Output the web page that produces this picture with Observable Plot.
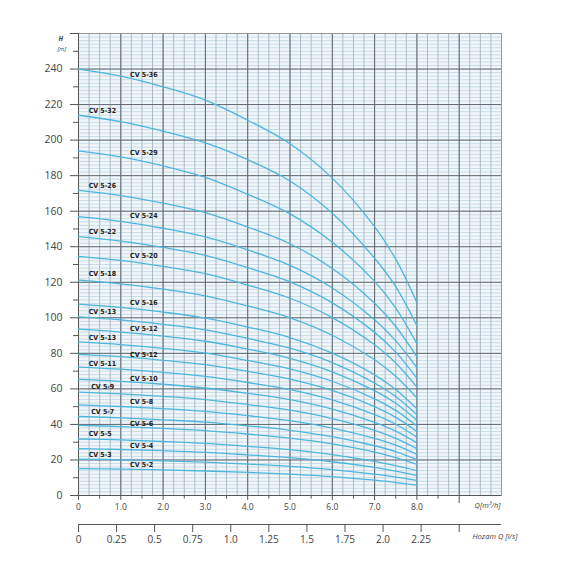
<!DOCTYPE html>
<html>
<head>
<meta charset="utf-8">
<script src="https://cdn.jsdelivr.net/npm/d3@7"></script>
<script src="https://cdn.jsdelivr.net/npm/@observablehq/plot@0.6"></script>
<style>
  body { margin: 0; background: #fff; }
</style>
</head>
<body>
<div id="chart"></div>
<script>
// flow points (m3/h) where each curve was read
const flow = [0, 1, 2, 3, 4, 5, 6, 7, 7.5, 8]

// head (m) of each pump curve at those flows
const cv36 = [240, 236, 230, 222.5, 211.2, 198, 178.6, 151.3, 133, 108.6]
const cv32 = [214, 210.4, 205, 198.4, 189, 177, 158.8, 133.5, 117.5, 95.5]
const cv29 = [194, 190.6, 185.5, 179, 169.5, 158.5, 142.5, 120.5, 105.5, 85.5]
const cv26 = [171.7, 168.8, 164.5, 159.2, 151.1, 141.7, 127.7, 108.2, 95.1, 78]
const cv24 = [157, 154.3, 150.4, 145.5, 138.2, 129.5, 116.8, 98.9, 87, 72]
const cv22 = [145.7, 143.2, 139.6, 135.1, 128.2, 120.2, 108.4, 91.8, 80.7, 66]
const cv20 = [134.6, 132.3, 128.9, 124.8, 118.4, 111, 100.1, 84.8, 74.6, 61]
const cv18 = [121.2, 119.1, 116.1, 112.4, 106.7, 100, 90.2, 76.4, 67.1, 54.9]
const cv16 = [107.7, 105.9, 103.2, 99.8, 94.8, 88.9, 80.1, 67.9, 59.7, 48.8]
const cv15 = [100.5, 98.8, 96.3, 93.2, 88.4, 82.9, 74.8, 63.3, 55.7, 45.5]
const cv14 = [93.6, 92, 89.7, 86.8, 82.4, 77.2, 69.6, 59, 51.9, 42.4]
const cv13 = [86.4, 84.9, 82.8, 80.1, 76, 71.3, 64.3, 54.4, 47.9, 39.1]
const cv12 = [79.4, 78.1, 76.1, 73.6, 69.9, 65.5, 59.1, 50, 44, 36]
const cv11 = [72.3, 71.1, 69.3, 67, 63.6, 59.6, 53.8, 45.5, 40.1, 32.8]
const cv10 = [65.3, 64.2, 62.6, 60.5, 57.5, 53.9, 48.6, 41.1, 36.2, 29.6]
const cv9 = [58.2, 57.2, 55.8, 54, 51.2, 48, 43.3, 36.7, 32.2, 26.4]
const cv8 = [51, 50.1, 48.9, 47.3, 44.9, 42.1, 37.9, 32.1, 28.3, 23.1]
const cv7 = [44.5, 43.7, 42.6, 41.3, 39.2, 36.7, 33.1, 28, 24.7, 20.2]
const cv6 = [39.5, 38.8, 37.8, 36.5, 34.6, 32.3, 29, 24.4, 21.3, 17.5]
const cv5 = [31.8, 31.3, 30.4, 29.3, 27.7, 25.8, 23, 19.2, 16.8, 14]
const cv4 = [26.4, 25.9, 25.2, 24.3, 22.9, 21.3, 19, 15.8, 13.7, 11.2]
const cv3 = [20.5, 20.1, 19.5, 18.8, 17.7, 16.4, 14.6, 12, 10.4, 8.5]
const cv2 = [15.1, 14.8, 14.4, 13.8, 13, 12, 10.6, 8.6, 7.3, 5.8]

const series = [cv36, cv32, cv29, cv26, cv24, cv22, cv20, cv18, cv16, cv15, cv14, cv13,
  cv12, cv11, cv10, cv9, cv8, cv7, cv6, cv5, cv4, cv3, cv2]

// curve labels as printed on the chart, with where they sit (Q, H)
const labelText = ['CV 5-36', 'CV 5-32', 'CV 5-29', 'CV 5-26', 'CV 5-24', 'CV 5-22', 'CV 5-20',
  'CV 5-18', 'CV 5-16', 'CV 5-13', 'CV 5-12', 'CV 5-13', 'CV 5-12', 'CV 5-11', 'CV 5-10',
  'CV 5-9', 'CV 5-8', 'CV 5-7', 'CV 5-6', 'CV 5-5', 'CV 5-4', 'CV 5-3', 'CV 5-2']
const labelQ = [1.22, 0.24, 1.22, 0.24, 1.22, 0.24, 1.22, 0.24, 1.22, 0.24, 1.22, 0.24, 1.22,
  0.24, 1.22, 0.3, 1.22, 0.3, 1.22, 0.24, 1.22, 0.24, 1.22]
const labelH = [237, 216.8, 193, 174.5, 157.6, 148.5, 135, 124.6, 108.6, 103.5, 93.9, 88.8,
  79.4, 74.4, 65.7, 61.2, 52.5, 47.1, 40.5, 34.6, 28.2, 23, 17.1]

// axis ticks
const yTicks = [0, 20, 40, 60, 80, 100, 120, 140, 160, 180, 200, 220, 240]
const yMinor = [10, 30, 50, 70, 90, 110, 130, 150, 170, 190, 210, 230, 250]
const qTicks = [0, 1, 2, 3, 4, 5, 6, 7, 8]
const qLabels = ['0', '1.0', '2.0', '3.0', '4.0', '5.0', '6.0', '7.0', '8.0']
const qMinor = [0.5, 1.5, 2.5, 3.5, 4.5, 5.5, 6.5, 7.5, 8.5]
const lpsTicks = [0, 0.25, 0.5, 0.75, 1, 1.25, 1.5, 1.75, 2, 2.25]
const lpsLabels = ['0', '0.25', '0.5', '0.75', '1.0', '1.25', '1.5', '1.75', '2.0', '2.25']

const rows = series.flatMap((s, i) => flow.map((q, j) => ({q: q, h: s[j], pump: i})))
const labels = labelText.map((t, i) => ({t: t, q: labelQ[i], h: labelH[i]}))

const tickColor = '#555'

let chart = Plot.plot({
  width: 570,
  height: 570,
  marginLeft: 78,
  marginRight: 69,
  marginTop: 33,
  marginBottom: 75,
  x: {domain: [0, 10], label: null},
  y: {domain: [0, 260], label: null},
  style: {
    fontFamily: '"Open Sans", sans-serif',
    color: '#444',
    backgroundColor: '#fff',
  },
  marks: [
    Plot.frame({fill: '#f0f6fa', stroke: null}),
    Plot.gridY({interval: 2, stroke: '#bfd5e2', strokeOpacity: 1, strokeWidth: 0.8}),
    Plot.gridX({interval: 0.25, stroke: '#adbbc5', strokeOpacity: 1, strokeWidth: 1}),
    Plot.gridX({interval: 1, stroke: '#636870', strokeOpacity: 1, strokeWidth: 1}),
    Plot.gridY({interval: 20, stroke: '#636870', strokeOpacity: 1, strokeWidth: 1}),
    Plot.frame({stroke: '#999', strokeWidth: 1}),
    Plot.ruleX([0], {stroke: '#555'}),
    Plot.ruleY([0], {stroke: '#555'}),

    Plot.line(rows, {
      x: 'q', y: 'h', z: 'pump',
      stroke: '#4db6df', strokeWidth: 1.3,
      curve: 'catmull-rom',
    }),
    Plot.text(labels, {
      x: 'q', y: 'h', text: 't',
      textAnchor: 'start',
      fontSize: 7,
      fontWeight: 'bold',
      fontFamily: '"Liberation Sans Narrow", "DejaVu Sans Condensed", sans-serif',
      fill: '#222',
    }),

    // left axis
    Plot.axisY(yTicks, {tickSize: 8, tickPadding: 8, fontSize: 10.5, stroke: tickColor, label: null}),
    Plot.axisY([260], {tickSize: 8, tickFormat: () => '', stroke: tickColor, label: null}),
    Plot.axisY(yMinor, {tickSize: 5, tickFormat: () => '', stroke: tickColor, label: null}),

    // bottom axis, m3/h
    Plot.axisX(qTicks, {tickSize: 5, tickPadding: 3, fontSize: 8.5, stroke: tickColor,
      tickFormat: (d, i) => qLabels[i], label: null}),
    Plot.axisX(qMinor, {tickSize: 3.5, tickFormat: () => '', stroke: tickColor, label: null}),
    Plot.axisX([9], {tickSize: 8, tickFormat: () => '', stroke: tickColor, label: null}),

    // second bottom axis, l/s
    Plot.ruleY([0], {dy: 29, stroke: tickColor}),
    Plot.axisX(lpsTicks.map(d => d * 3.6), {dy: 29, tickSize: 8, tickPadding: 3, fontSize: 10,
      stroke: tickColor, tickFormat: (d, i) => lpsLabels[i], label: null}),
    Plot.axisX([2.5 * 3.6], {dy: 29, tickSize: 8, tickFormat: () => '', stroke: tickColor, label: null}),

    // axis titles
    Plot.text(['H'], {frameAnchor: 'top-left', dx: -20, dy: 3, fontSize: 6.5,
      fontStyle: 'italic', fontWeight: 'bold', fill: '#444'}),
    Plot.text(['[m]'], {frameAnchor: 'top-left', dx: -21, dy: 13, fontSize: 6,
      fontStyle: 'italic', fill: '#444'}),
    Plot.text(['Q[m³/h]'], {frameAnchor: 'bottom-right', textAnchor: 'end', dx: -1, dy: 12,
      fontSize: 7.5, fontStyle: 'italic', fill: '#444'}),
    Plot.text(['Hozam Q [l/s]'], {frameAnchor: 'bottom-right', textAnchor: 'start', dx: -29, dy: 43,
      fontSize: 7.5, fontStyle: 'italic', fill: '#444'}),
  ],
})

d3.select('#chart').append(() => chart)
</script>
</body>
</html>
